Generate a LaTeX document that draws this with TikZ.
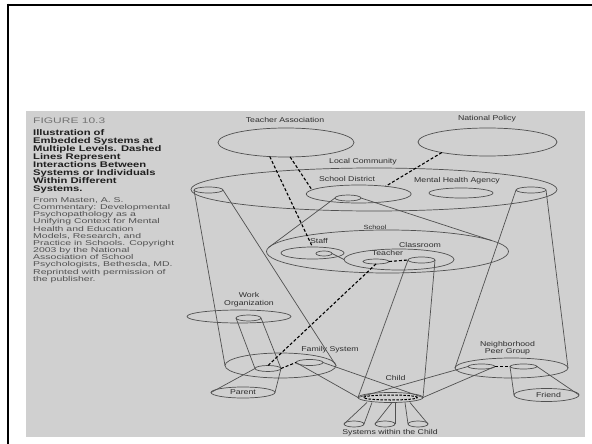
\documentclass[tikz,border=0pt]{standalone}
\usepackage{fontspec}
\usetikzlibrary{shapes.geometric}
\newfontfamily\figsans[FakeStretch=1.25]{Liberation Sans}
\newfontfamily\capsans[FakeStretch=1.37]{Liberation Sans}
\newfontfamily\srcsans[FakeStretch=1.5]{Liberation Sans}
\definecolor{photo}{RGB}{208,208,208}
\definecolor{ink}{RGB}{80,80,80}
\definecolor{print}{RGB}{45,45,45}

\begin{document}
\begin{tikzpicture}[x=1pt,y=-1pt,
    sys/.style={draw=ink, line width=0.7pt, ellipse, inner sep=0pt, outer sep=0pt},
    wire/.style={draw=ink, line width=0.7pt},
    tie/.style={draw=black, line width=1.1pt, dash pattern=on 3pt off 2pt},
    lbl/.style={text=print, font=\figsans\fontsize{7}{7.5}\selectfont, inner sep=0pt, align=center}]
  \useasboundingbox (0,0) rectangle (592,444);
  \fill[white] (0,0) rectangle (592,444);
  \fill[photo] (26,111) rectangle (585,437);
  \draw[line width=2.5pt] (6.75,5) -- (592,5);
  \draw[line width=2.5pt] (8,3.75) -- (8,444);

  % caption column
  \node[anchor=base west, inner sep=0pt, text=black!55, font=\srcsans\fontsize{8}{8}\selectfont] (fig) at (33,124) {FIGURE 10.3};
  \foreach \ln [count=\i] in {Illustration of, Embedded Systems at, Multiple Levels. Dashed, Lines Represent, Interactions Between, Systems or Individuals, Within Different, Systems.}
    \node[anchor=base west, inner sep=0pt, text=black!88, font=\capsans\bfseries\fontsize{8.2}{8}\selectfont] (title\i) at (33,127.5+8*\i) {\ln};
  \foreach \ln [count=\i] in {{From Masten, A. S.}, {Commentary: Developmental}, {Psychopathology as a}, {Unifying Context for Mental}, {Health and Education}, {Models, Research, and}, {Practice in Schools. Copyright}, {2003 by the National}, {Association of School}, {Psychologists, Bethesda, MD.}, {Reprinted with permission of}, {the publisher.}}
    \node[anchor=base west, inner sep=0pt, text=black!68, font=\srcsans\fontsize{7}{7}\selectfont] (src\i) at (33,195.1+7.18*\i) {\ln};

  % systems
  \node[sys, minimum width=136, minimum height=29] (ta) at (286,142.5) {};
  \node[sys, minimum width=139, minimum height=28] (np) at (487.5,142) {};
  \node[sys, minimum width=366, minimum height=43] (lc) at (374,189.5) {};
  \node[sys, minimum width=105, minimum height=18] (sd) at (358.7,194) {};
  \node[sys, minimum width=64, minimum height=10] (mha) at (461,193) {};
  \node[sys, minimum width=26, minimum height=6] (sdtop) at (348,198) {};
  \node[sys, minimum width=29, minimum height=6] (lctopl) at (208.5,190) {};
  \node[sys, minimum width=30, minimum height=6] (lctopr) at (531,190) {};
  \node[sys, minimum width=242, minimum height=43] (sch) at (387.5,251.5) {};
  \node[sys, minimum width=63, minimum height=12] (staff) at (312.5,253) {};
  \node[sys, minimum width=16, minimum height=5] (staffin) at (324,253.5) {};
  \node[sys, minimum width=110, minimum height=21] (cls) at (399,259.5) {};
  \node[sys, minimum width=26, minimum height=5] (tch) at (376,261.5) {};
  \node[sys, minimum width=27, minimum height=6] (clstop) at (421.5,260) {};
  \node[sys, minimum width=104, minimum height=13] (work) at (239,316.5) {};
  \node[sys, minimum width=25, minimum height=6] (worktop) at (248.5,318) {};
  \node[sys, minimum width=111, minimum height=25] (fam) at (280.5,365.5) {};
  \node[sys, minimum width=26, minimum height=6] (famp) at (268,368.5) {};
  \node[sys, minimum width=27, minimum height=6] (famc) at (309.5,362.5) {};
  \node[sys, lbl, minimum width=64, minimum height=11] (parent) at (243,392.5) {Parent};
  \node[sys, minimum width=113, minimum height=20] (nbr) at (511.5,368) {};
  \node[sys, minimum width=27, minimum height=5] (nbrc) at (481.5,366.5) {};
  \node[sys, minimum width=27, minimum height=5] (nbrf) at (523.5,366.5) {};
  \node[sys, lbl, minimum width=65, minimum height=13] (friend) at (546.5,395) {\hspace*{4pt}Friend};
  \node[sys, minimum width=65, minimum height=10] (child) at (390.5,397.5) {};
  \node[sys, draw=black, line width=1pt, dash pattern=on 2.5pt off 1.5pt, minimum width=54, minimum height=5] (childin) at (390.5,397.5) {};
  \node[sys, minimum width=20, minimum height=6] (sys1) at (354,424) {};
  \node[sys, minimum width=20, minimum height=6] (sys2) at (385,424) {};
  \node[sys, minimum width=20, minimum height=6] (sys3) at (418,424) {};

  % labels
  \node[lbl] (talbl) at (285,120) {Teacher Association};
  \node[lbl] (nplbl) at (487,119) {National Policy};
  \node[lbl] (lclbl) at (363,162) {Local Community};
  \node[lbl] (sdlbl) at (347,179) {School District};
  \node[lbl] (mhalbl) at (457,181) {Mental Health Agency};
  \node[lbl, font=\figsans\fontsize{6}{6}\selectfont] (schlbl) at (375,227) {School};
  \node[lbl] (stafflbl) at (319,241) {Staff};
  \node[lbl] (clslbl) at (420,245) {Classroom};
  \node[lbl] (tchlbl) at (387.5,253) {Teacher};
  \node[lbl] (worklbl) at (249,299.5) {Work\\Organization};
  \node[lbl] (famlbl) at (330,350) {Family System};
  \node[lbl] (nbrlbl) at (507.5,348) {Neighborhood\\Peer Group};
  \node[lbl] (childlbl) at (395.5,378) {Child};
  \node[lbl] (syslbl) at (390,433) {Systems within the Child};

  % embedding cones
  \draw[wire] (lctopl.west) -- (fam.west);
  \draw[wire] (lctopl.east) -- (fam.east);
  \draw[wire] (lctopr.west) -- (nbr.west);
  \draw[wire] (lctopr.east) -- (nbr.east);
  \draw[wire] (sdtop.west) -- (sch.178);
  \draw[wire] (sdtop.east) -- (sch.6);
  \draw[wire] (staffin.east) -- (cls.west);
  \draw[wire] (worktop.west) -- (famp.west);
  \draw[wire] (worktop.east) -- (famp.east);
  \draw[wire] (famp.west) -- (parent.west);
  \draw[wire] (famp.east) -- (parent.east);
  \draw[wire] (clstop.west) -- (child.west);
  \draw[wire] (clstop.east) -- (child.east);
  \draw[wire] (famc.west) -- (child.west);
  \draw[wire] (famc.east) -- (child.east);
  \draw[wire] (nbrc.west) -- (child.west);
  \draw[wire] (nbrc.east) -- (child.east);
  \draw[wire] (nbrf.west) -- (friend.west);
  \draw[wire] (nbrf.east) -- (friend.east);
  \draw[wire] ([xshift=-23.5pt]child.south) -- (sys1.west);
  \draw[wire] ([xshift=-18.5pt]child.south) -- (sys1.east);
  \draw[wire] ([xshift=1.5pt]child.south) -- (sys2.west);
  \draw[wire] ([xshift=4.5pt]child.south) -- (sys2.east);
  \draw[wire] ([xshift=14.5pt]child.south) -- (sys3.west);
  \draw[wire] ([xshift=19.5pt]child.south) -- (sys3.east);

  % interactions
  \draw[tie] (ta.286) -- (sd.175);
  \draw[tie] (ta.221) -- (staff.north);
  \draw[tie] (np.193) -- (sd.16);
  \draw[tie] (tch.south) -- (famp.north);
  \draw[tie] (tch.east) -- (clstop.west);
  \draw[tie] (famp.east) -- (famc.west);
  \draw[tie] (nbrc.east) -- (nbrf.west);
\end{tikzpicture}
\end{document}
